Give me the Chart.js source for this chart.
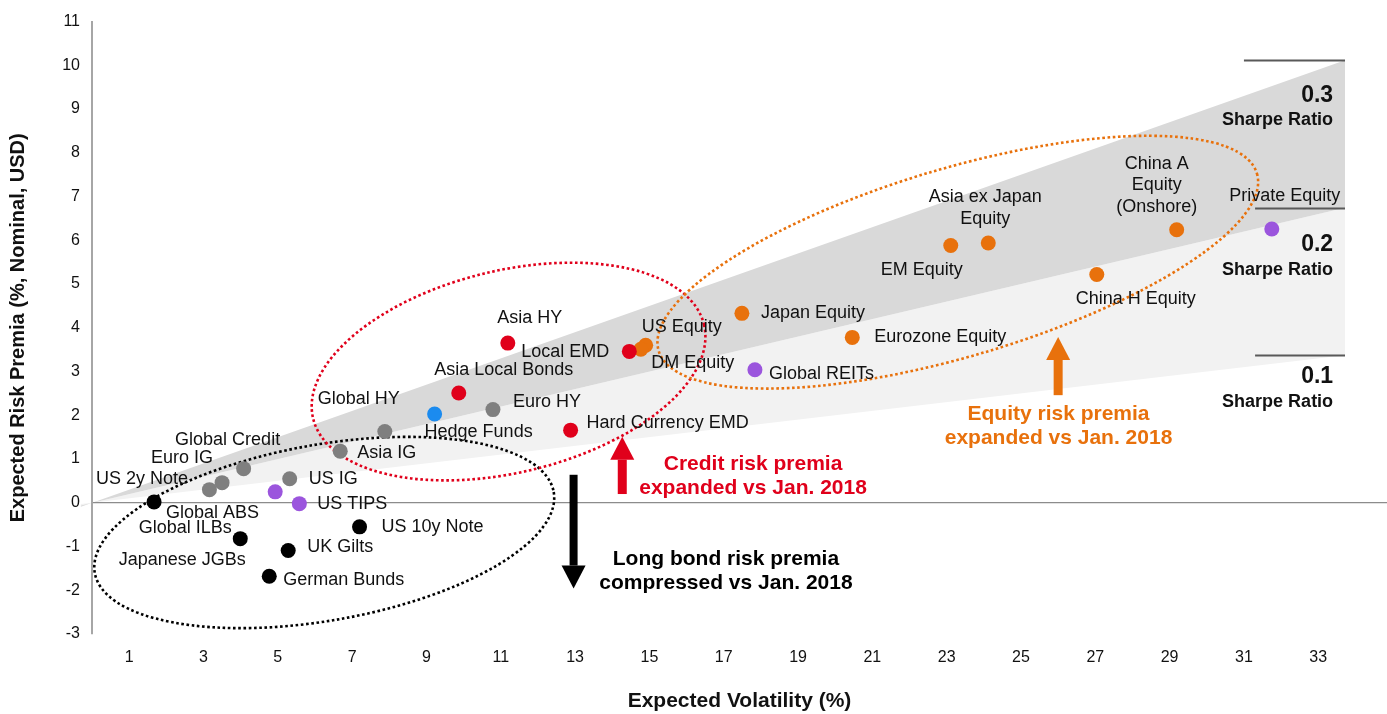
<!DOCTYPE html>
<html>
<head>
<meta charset="utf-8">
<title>Expected risk premia vs expected volatility</title>
<script src="https://cdn.jsdelivr.net/npm/chart.js@4.4.1/dist/chart.umd.min.js"></script>
<style>
  html, body { margin: 0; padding: 0; background: #ffffff; }
  #wrap { position: relative; width: 1387px; height: 714px; }
</style>
</head>
<body>
<div id="wrap"><canvas id="chart"></canvas></div>
<script>
// ---- data -------------------------------------------------------------
const assetNames = [
  'US 2y Note', 'Global ABS', 'Euro IG', 'Global Credit', 'US IG', 'Asia IG',
  'Global HY', 'Euro HY', 'Global ILBs', 'US TIPS', 'Japanese JGBs', 'UK Gilts',
  'German Bunds', 'US 10y Note', 'Hedge Funds', 'Asia Local Bonds', 'Asia HY',
  'Local EMD', 'Hard Currency EMD', 'US Equity', 'DM Equity', 'Japan Equity',
  'Global REITs', 'Eurozone Equity', 'EM Equity', 'Asia ex Japan Equity',
  'China H Equity', 'China A Equity (Onshore)', 'Private Equity'
];
// expected volatility (%)
const volatility = [
  1.67, 3.16, 3.50, 4.08, 5.32, 6.68,
  7.88, 10.79, 4.93, 5.58, 3.99, 5.28,
  4.77, 7.20, 9.22, 9.87, 11.19,
  14.46, 12.88, 14.90, 14.77, 17.49,
  17.84, 20.46, 23.11, 24.12,
  27.04, 29.19, 31.75
];
// expected risk premia (%, nominal, USD)
const riskPremia = [
  0.02, 0.30, 0.46, 0.78, 0.55, 1.18,
  1.63, 2.13, 0.25, -0.02, -0.82, -1.09,
  -1.68, -0.55, 2.03, 2.51, 3.65,
  3.46, 1.66, 3.60, 3.51, 4.33,
  3.04, 3.78, 5.88, 5.94,
  5.22, 6.24, 6.26
];
const assetClass = [
  'govt', 'credit', 'credit', 'credit', 'credit', 'credit',
  'credit', 'credit', 'real', 'real', 'govt', 'govt',
  'govt', 'govt', 'hedge', 'em', 'em',
  'em', 'em', 'equity', 'equity', 'equity',
  'real', 'equity', 'equity', 'equity',
  'equity', 'equity', 'real'
];
const xTickValues = [1, 3, 5, 7, 9, 11, 13, 15, 17, 19, 21, 23, 25, 27, 29, 31, 33];
const yTickValues = [-3, -2, -1, 0, 1, 2, 3, 4, 5, 6, 7, 8, 9, 10, 11];
const sharpeRatios = [0.1, 0.2, 0.3];

// ---- styling ----------------------------------------------------------
const FONT = "'Liberation Sans', Arial, Helvetica, sans-serif";
const classColors = {
  em: '#e0001b', govt: '#000000', credit: '#7f7f7f',
  real: '#9b55dd', hedge: '#1b8bef', equity: '#e8710c'
};
const classDrawOrder = ['em', 'govt', 'credit', 'real', 'hedge', 'equity'];
const bandRange = [-0.3, 33.72];               // x extent of the Sharpe ratio cone
const bandColors = ['#f2f2f2', '#d9d9d9'];     // 0.1-0.2, 0.2-0.3
const sharpeMarkerStart = [31.3, 31.3, 31.0];  // left end of the short marker lines

// label placement: offset from the dot in px, alignment, optional line split
const labelPlacement = {
  'US 2y Note':       { dx: -12, dy: -23, align: 'center' },
  'Global ABS':       { dx: 3,   dy: 23,  align: 'center' },
  'Euro IG':          { dx: -40, dy: -25, align: 'center' },
  'Global Credit':    { dx: -16, dy: -29, align: 'center' },
  'US IG':            { dx: 19,  dy: 0,   align: 'left' },
  'Asia IG':          { dx: 17,  dy: 2,   align: 'left' },
  'Global HY':        { dx: -26, dy: -32, align: 'center' },
  'Euro HY':          { dx: 20,  dy: -8,  align: 'left' },
  'Global ILBs':      { dx: -90, dy: 36,  align: 'center' },
  'US TIPS':          { dx: 18,  dy: 0,   align: 'left' },
  'Japanese JGBs':    { dx: -58, dy: 21,  align: 'center' },
  'UK Gilts':         { dx: 19,  dy: -3,  align: 'left' },
  'German Bunds':     { dx: 14,  dy: 4,   align: 'left' },
  'US 10y Note':      { dx: 22,  dy: 0,   align: 'left' },
  'Hedge Funds':      { dx: 44,  dy: 18,  align: 'center' },
  'Asia Local Bonds': { dx: 45,  dy: -23, align: 'center' },
  'Asia HY':          { dx: 22,  dy: -25, align: 'center' },
  'Local EMD':        { dx: -20, dy: 1,   align: 'right' },
  'Hard Currency EMD':{ dx: 16,  dy: -7,  align: 'left' },
  'US Equity':        { dx: 36,  dy: -18, align: 'center' },
  'DM Equity':        { dx: 52,  dy: 14,  align: 'center' },
  'Japan Equity':     { dx: 19,  dy: 0,   align: 'left' },
  'Global REITs':     { dx: 14,  dy: 4,   align: 'left' },
  'Eurozone Equity':  { dx: 22,  dy: 0,   align: 'left' },
  'EM Equity':        { dx: -29, dy: 24,  align: 'center' },
  'Asia ex Japan Equity': { dx: -3, dy: -46, align: 'center', lines: ['Asia ex Japan', 'Equity'], lh: 22 },
  'China H Equity':   { dx: 39,  dy: 25,  align: 'center' },
  'China A Equity (Onshore)': { dx: -20, dy: -66, align: 'center', lines: ['China A', 'Equity', '(Onshore)'], lh: 21.5 },
  'Private Equity':   { dx: 13,  dy: -33, align: 'center' }
};

// dotted ellipses grouping the asset classes (centre in data units, radii in px)
const groupEllipses = [
  { cx: 6.25,  cy: -0.68, rx: 233, ry: 88,  rot: -10,   color: '#000000' },
  { cx: 11.21, cy: 3.00,  rx: 201, ry: 101, rot: -13.5, color: '#e0001b' },
  { cx: 23.30, cy: 5.50,  rx: 312, ry: 94,  rot: -16.5, color: '#e8710c' }
];

// arrows with their captions
const premiaArrows = [
  { x: 12.96, from: 0.64, to: -1.96, shaft: 8, color: '#000000',
    text: ['Long bond risk premia', 'compressed vs Jan. 2018'], tx: 17.06, ty: -1.28 },
  { x: 14.27, from: 0.20, to: 1.51, shaft: 9, color: '#e0001b',
    text: ['Credit risk premia', 'expanded vs Jan. 2018'], tx: 17.79, ty: 0.89 },
  { x: 26.0, from: 2.46, to: 3.79, shaft: 9, color: '#e8710c',
    text: ['Equity risk premia', 'expanded vs Jan. 2018'], tx: 26.01, ty: 2.03 }
];

// Sharpe ratio captions at the right edge
const sharpeCaptions = [
  { value: '0.1', x: 33.4, y: 2.89, subY: 2.30 },
  { value: '0.2', x: 33.4, y: 5.91, subY: 5.31 },
  { value: '0.3', x: 33.4, y: 9.30, subY: 8.75 }
];

// ---- datasets ---------------------------------------------------------
const datasets = classDrawOrder.map(cls => ({
  label: cls,
  data: assetNames
    .map((n, i) => ({ x: volatility[i], y: riskPremia[i], name: n, cls: assetClass[i] }))
    .filter(p => p.cls === cls),
  backgroundColor: classColors[cls],
  borderColor: classColors[cls],
  borderWidth: 0,
  pointRadius: 7.5,
  pointHoverRadius: 7.5
}));

// ---- plugins ----------------------------------------------------------
const sharpeBands = {
  id: 'sharpeBands',
  beforeDraw(chart) {
    const { ctx, scales: { x, y } } = chart;
    const [x0, x1] = bandRange;
    ctx.save();
    for (let i = 0; i < sharpeRatios.length - 1; i++) {
      const lo = sharpeRatios[i], hi = sharpeRatios[i + 1];
      ctx.beginPath();
      ctx.moveTo(x.getPixelForValue(x0), y.getPixelForValue(lo * x0));
      ctx.lineTo(x.getPixelForValue(x1), y.getPixelForValue(lo * x1));
      ctx.lineTo(x.getPixelForValue(x1), y.getPixelForValue(hi * x1));
      ctx.lineTo(x.getPixelForValue(x0), y.getPixelForValue(hi * x0));
      ctx.closePath();
      ctx.fillStyle = bandColors[i];
      ctx.fill();
    }
    // short marker lines at the end of each Sharpe ratio edge
    ctx.strokeStyle = '#595959';
    ctx.lineWidth = 2;
    sharpeRatios.forEach((sr, i) => {
      const py = Math.round(y.getPixelForValue(sr * x1)) + 0.5;
      ctx.beginPath();
      ctx.moveTo(x.getPixelForValue(sharpeMarkerStart[i]), py);
      ctx.lineTo(x.getPixelForValue(x1), py);
      ctx.stroke();
    });
    ctx.restore();
  }
};

const groupOutlines = {
  id: 'groupOutlines',
  beforeDatasetsDraw(chart) {
    const { ctx, scales: { x, y } } = chart;
    ctx.save();
    ctx.lineWidth = 2.6;
    ctx.setLineDash([2.6, 2.6]);
    groupEllipses.forEach(e => {
      ctx.strokeStyle = e.color;
      ctx.beginPath();
      ctx.ellipse(x.getPixelForValue(e.cx), y.getPixelForValue(e.cy), e.rx, e.ry,
                  e.rot * Math.PI / 180, 0, Math.PI * 2);
      ctx.stroke();
    });
    ctx.restore();
  }
};

const annotations = {
  id: 'annotations',
  afterDatasetsDraw(chart) {
    const { ctx, scales: { x, y } } = chart;
    ctx.save();
    ctx.textBaseline = 'middle';

    // asset labels
    ctx.font = '18px ' + FONT;
    ctx.fillStyle = '#111111';
    assetNames.forEach((name, i) => {
      const p = labelPlacement[name];
      const px = x.getPixelForValue(volatility[i]);
      const py = y.getPixelForValue(riskPremia[i]);
      const lines = p.lines || [name];
      ctx.textAlign = p.align;
      lines.forEach((ln, k) => ctx.fillText(ln, px + p.dx, py + p.dy + k * (p.lh || 22)));
    });

    // arrows and captions
    premiaArrows.forEach(a => {
      const px = x.getPixelForValue(a.x);
      const y0 = y.getPixelForValue(a.from);
      const y1 = y.getPixelForValue(a.to);
      const dir = Math.sign(y1 - y0);
      const headLen = 23, headHalf = 12;
      const base = y1 - dir * headLen;
      ctx.fillStyle = a.color;
      ctx.fillRect(px - a.shaft / 2, Math.min(y0, base), a.shaft, Math.abs(base - y0));
      ctx.beginPath();
      ctx.moveTo(px - headHalf, base);
      ctx.lineTo(px + headHalf, base);
      ctx.lineTo(px, y1);
      ctx.closePath();
      ctx.fill();

      ctx.font = 'bold 21px ' + FONT;
      ctx.textAlign = 'center';
      const tx = x.getPixelForValue(a.tx);
      const ty = y.getPixelForValue(a.ty);
      a.text.forEach((ln, k) => ctx.fillText(ln, tx, ty + k * 24));
    });

    // Sharpe ratio captions
    ctx.fillStyle = '#111111';
    ctx.textAlign = 'right';
    sharpeCaptions.forEach(c => {
      const px = x.getPixelForValue(c.x);
      ctx.font = 'bold 23px ' + FONT;
      ctx.fillText(c.value, px, y.getPixelForValue(c.y));
      ctx.font = 'bold 18px ' + FONT;
      ctx.fillText('Sharpe Ratio', px, y.getPixelForValue(c.subY));
    });
    ctx.restore();
  }
};

// ---- chart ------------------------------------------------------------
new Chart(document.getElementById('chart'), {
  type: 'scatter',
  data: { datasets },
  options: {
    responsive: true,
    maintainAspectRatio: false,
    animation: false,
    events: [],
    layout: { autoPadding: false, padding: { top: 19, right: 0, bottom: 0, left: 0 } },
    plugins: { legend: { display: false }, tooltip: { enabled: false } },
    scales: {
      x: {
        type: 'linear',
        min: 0,
        max: 34.85,
        afterBuildTicks: s => { s.ticks = xTickValues.map(v => ({ value: v })); },
        afterFit: s => { s.height = 80; s.paddingLeft = 0; s.paddingRight = 0; },
        grid: { display: false, drawTicks: false },
        border: { display: false },
        ticks: { font: { family: FONT, size: 16 }, color: '#111111', padding: 14,
                 maxRotation: 0, autoSkip: false },
        title: { display: true, text: 'Expected Volatility (%)', color: '#111111',
                 font: { family: FONT, size: 21, weight: 'bold' }, padding: { top: 0, bottom: 0 } }
      },
      y: {
        type: 'linear',
        min: -3,
        max: 11,
        afterBuildTicks: s => { s.ticks = yTickValues.map(v => ({ value: v })); },
        afterFit: s => { s.width = 92; },
        grid: {
          drawTicks: false,
          color: c => (c.tick && c.tick.value === 0 ? '#8c8c8c' : 'rgba(0,0,0,0)'),
          lineWidth: 1.2
        },
        border: { display: true, color: '#a6a6a6', width: 2 },
        ticks: { font: { family: FONT, size: 16 }, color: '#111111', padding: 12 },
        title: { display: true, text: 'Expected Risk Premia (%, Nominal, USD)', color: '#111111',
                 font: { family: FONT, size: 20, weight: 'bold' }, padding: { top: 6, bottom: 0 } }
      }
    }
  },
  plugins: [sharpeBands, groupOutlines, annotations]
});
</script>
</body>
</html>
